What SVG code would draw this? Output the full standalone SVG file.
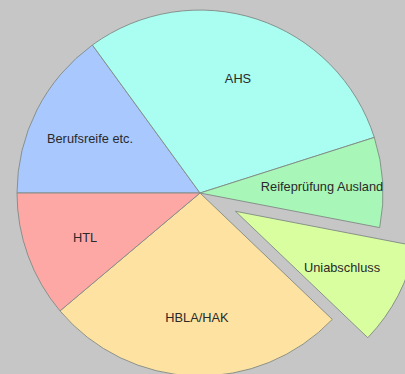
<svg xmlns="http://www.w3.org/2000/svg" width="405" height="374" viewBox="0 0 405 374">
<style>
.s{stroke:#808a84;stroke-width:0.9;stroke-linejoin:round}
.t{font-family:"Liberation Sans",Arial,sans-serif;font-size:12.8px;fill:#2a2a2a;text-anchor:middle}
</style>
<rect x="0" y="0" width="405" height="374" fill="#c6c6c6"/>
<g id="berufsreife">
<path class="s" fill="#a9c8fe" d="M200,193 L17,193 A183,183 0 0 1 92.4,45 Z"/>
<text class="t" x="90" y="142.5">Berufsreife etc.</text>
</g>
<g id="ahs">
<path class="s" fill="#a9fdf1" d="M200,193 L92.4,45 A183,183 0 0 1 374.3,137.4 Z"/>
<text class="t" x="238" y="82.5">AHS</text>
</g>
<g id="reife">
<path class="s" fill="#a8f6b8" d="M200,193 L374.3,137.4 A183,183 0 0 1 379.7,227.6 Z"/>
<text class="t" x="322" y="190.5">Reifeprüfung Ausland</text>
</g>
<g id="uni">
<path class="s" fill="#d9fea0" d="M235.5,211.3 L415.2,245.9 A183,183 0 0 1 367.8,337.7 Z"/>
<text class="t" x="342" y="271.5">Uniabschluss</text>
</g>
<g id="hbla">
<path class="s" fill="#fee2a2" d="M200,193 L332.3,319.4 A183,183 0 0 1 60,310.9 Z"/>
<text class="t" x="197" y="321.5">HBLA/HAK</text>
</g>
<g id="htl">
<path class="s" fill="#fea8a6" d="M200,193 L60,310.9 A183,183 0 0 1 17,193 Z"/>
<text class="t" x="85" y="241.5">HTL</text>
</g>
<g id="connectors"></g>
</svg>
